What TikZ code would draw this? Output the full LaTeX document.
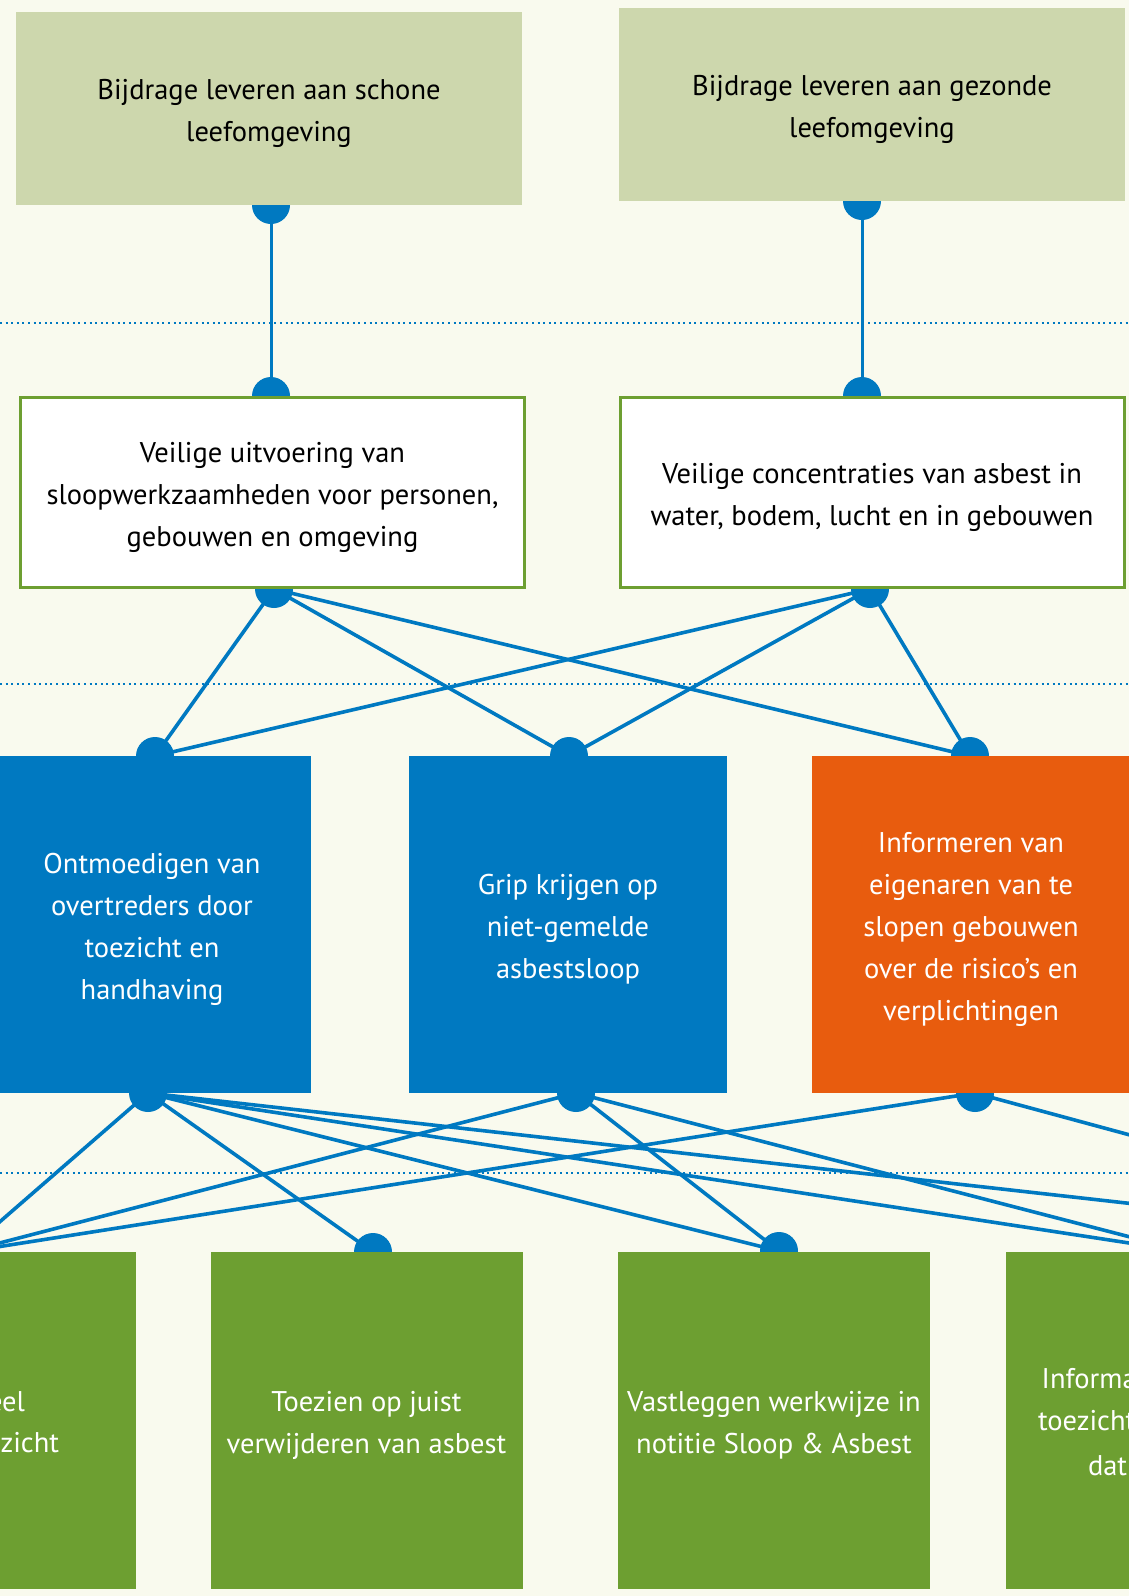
\documentclass[tikz,border=0pt]{standalone}
\usepackage{fontspec}
\setmainfont{PT Sans}
\definecolor{paper}{HTML}{F9FAEE}
\definecolor{sage}{HTML}{CDD7AD}
\definecolor{leaf}{HTML}{6D9F31}
\definecolor{sky}{HTML}{0079C1}
\definecolor{ember}{HTML}{E85C0E}
\begin{document}
\begin{tikzpicture}[x=1pt,y=-1pt,
  box/.style={inner sep=0pt, outer sep=0pt},
  goal/.style={box, fill=sage, minimum width=506pt, minimum height=193pt},
  effect/.style={box, fill=white, draw=leaf, line width=3pt,
    minimum width=504pt, minimum height=190pt},
  aim/.style={box, fill=sky, minimum width=318pt, minimum height=337pt},
  aimalt/.style={aim, fill=ember},
  task/.style={box, fill=leaf, minimum width=312pt, minimum height=337pt},
  words/.style={inner sep=0pt, outer sep=0pt, align=center, yshift=-5pt,
    font=\fontsize{28.5}{42}\selectfont},
  dark/.style={words, text=black},
  light/.style={words, text=white},
  frag/.style={inner sep=0pt, outer sep=0pt, text=white,
    font=\fontsize{28.5}{42}\selectfont},
  dot/.style={circle, fill=sky, inner sep=0pt, minimum size=38pt},
  link/.style={draw=sky, line width=3.6pt},
  stem/.style={draw=sky, line width=3pt},
  level/.style={draw=sky, line width=2pt, dash pattern=on 2pt off 3.6pt},
]
\useasboundingbox (0,0) rectangle (1129,1596);
\clip (0,0) rectangle (1129,1596);
\fill[paper] (0,0) rectangle (1129,1596);

% separators between the levels
\draw[level] (0,323) -- (1129,323);
\draw[level] (0,684) -- (1129,684);
\draw[level] (0,1173) -- (1129,1173);

% connection points on the box edges
\node[dot] (t1b) at (271,205) {};
\node[dot] (t2b) at (862,201) {};
\node[dot] (w1t) at (271,396) {};
\node[dot] (w2t) at (862,396) {};
\node[dot] (w1b) at (274,589) {};
\node[dot] (w2b) at (870,589) {};
\node[dot] (b1t) at (155,756) {};
\node[dot] (b2t) at (569,756) {};
\node[dot] (o1t) at (970,756) {};
\node[dot] (b1b) at (148,1093) {};
\node[dot] (b2b) at (576,1093) {};
\node[dot] (o1b) at (975,1093) {};
\node[dot] (g1t) at (-35,1252) {};
\node[dot] (g2t) at (373,1252) {};
\node[dot] (g3t) at (779,1251) {};
\node[dot] (g4t) at (1188,1252) {};
\node[dot] (g5t) at (1562,1252) {};

% connectors
\draw[stem] (t1b.center) -- (w1t.center);
\draw[stem] (t2b.center) -- (w2t.center);
\foreach \a in {w1b,w2b}
  \foreach \b in {b1t,b2t,o1t}
    \draw[link] (\a.center) -- (\b.center);
\foreach \b in {g1t,g2t,g3t,g4t,g5t}
  \draw[link] (b1b.center) -- (\b.center);
\foreach \b in {g1t,g3t,g4t}
  \draw[link] (b2b.center) -- (\b.center);
\foreach \b in {g1t,g5t}
  \draw[link] (o1b.center) -- (\b.center);

% top level
\node[goal] (t1) at (269,108.5) {};
\node[goal] (t2) at (872,104.5) {};
\node[dark] (t1x) at (t1.center) {Bijdrage leveren aan schone\\leefomgeving};
\node[dark] (t2x) at (t2.center) {Bijdrage leveren aan gezonde\\leefomgeving};

% effects
\node[effect] (w1) at (272.5,492.5) {};
\node[effect] (w2) at (872,492.5) {};
\node[dark] (w1x) at (w1.center) {Veilige uitvoering van\\sloopwerkzaamheden voor personen,\\gebouwen en omgeving};
\node[dark] (w2x) at (w2.center) {Veilige concentraties van asbest in\\water, bodem, lucht en in gebouwen};

% aims
\node[aim] (b1) at (152,924.5) {};
\node[aim] (b2) at (568,924.5) {};
\node[aimalt] (o1) at (971,924.5) {};
\node[light] (b1x) at (b1.center) {Ontmoedigen van\\overtreders door\\toezicht en\\handhaving};
\node[light] (b2x) at (b2.center) {Grip krijgen op\\niet-gemelde\\asbestsloop};
\node[light] (o1x) at (o1.center) {Informeren van\\eigenaren van te\\slopen gebouwen\\over de risico’s en\\verplichtingen};

% tasks
\node[task] (g1) at (-20,1420.5) {};
\node[task] (g2) at (366.5,1420.5) {};
\node[task] (g3) at (774,1420.5) {};
\node[task] (g4) at (1162,1420.5) {};
\node[light] (g2x) at (g2.center) {Toezien op juist\\verwijderen van asbest};
\node[light] (g3x) at (g3.center) {Vastleggen werkwijze in\\notitie Sloop \& Asbest};
\node[frag, anchor=base east] (g1a) at (25,1411.7) {eel};
\node[frag, anchor=base east] (g1b) at (59,1452.7) {ezicht};
\node[frag, anchor=base west] (g4a) at (1041.7,1388) {Informa};
\node[frag, anchor=base west] (g4b) at (1038,1430) {toezicht};
\node[frag, anchor=base west] (g4c) at (1088,1475) {dat};
\end{tikzpicture}
\end{document}
